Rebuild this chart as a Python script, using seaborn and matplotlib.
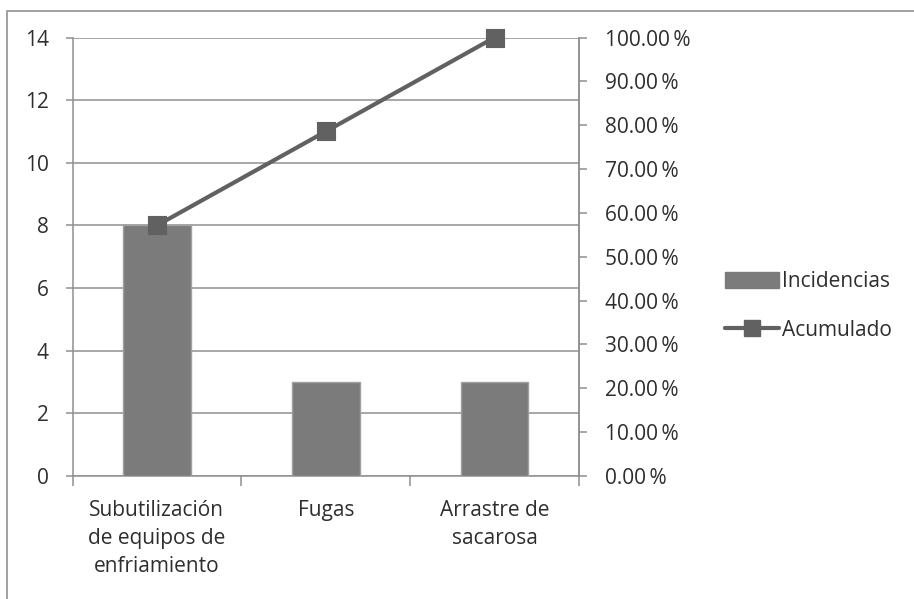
import matplotlib
matplotlib.use("Agg")
import matplotlib.pyplot as plt
import seaborn as sns
import pandas as pd
from matplotlib.lines import Line2D
from matplotlib.patches import Patch, Rectangle
from matplotlib.ticker import FixedLocator, FuncFormatter

categorias = ["Subutilización\nde equipos de\nenfriamiento", "Fugas", "Arrastre de\nsacarosa"]
incidencias = [8, 3, 3]
acumulado = [57.14, 78.57, 100.0]

sns.set_theme(style="white")
plt.rcParams["font.family"] = ["Open Sans", "DejaVu Sans"]

df = pd.DataFrame({"causa": categorias, "incidencias": incidencias, "acumulado": acumulado})

W, H = 914, 599
fig = plt.figure(figsize=(W / 100, H / 100), dpi=100)
# chart frame (open towards the right and bottom edges)
fig.patches.append(Rectangle((7 / W, -0.1), 1.2, 1 - 11 / H + 0.1, transform=fig.transFigure,
                             fill=False, edgecolor="#9a9a9a", linewidth=1.3, zorder=0))
ax = fig.add_axes([72.5 / W, 1 - 476 / H, 506.5 / W, 438.5 / H])

bar_color = "#7b7b7b"
line_color = "#616161"
axis_color = "#8f8f8f"
text_color = "#2e2e2e"
fs = 15

sns.barplot(data=df, x="causa", y="incidencias", color=bar_color, width=0.4,
            saturation=1, edgecolor="#a0a0a0", linewidth=1, ax=ax, zorder=3)
ax.set_ylim(0, 14)
ax.set_yticks(range(0, 15, 2))
ax.set_xlim(-0.5, 2.5)
ax.yaxis.grid(True, color=axis_color, linewidth=1.1)
ax.set_axisbelow(True)
ax.set_xlabel("")
ax.set_ylabel("")

ax.spines["top"].set_visible(False)
for side in ["left", "right", "bottom"]:
    ax.spines[side].set_color(axis_color)
    ax.spines[side].set_linewidth(1.1)

ax.tick_params(axis="y", length=5, width=1.1, color=axis_color, labelsize=fs, pad=12,
               labelcolor=text_color, left=True)
ax.xaxis.set_major_locator(FixedLocator([0, 1, 2]))
ax.tick_params(axis="x", length=0, labelsize=fs, pad=17, labelcolor=text_color)
for lbl in ax.get_xticklabels():
    lbl.set_linespacing(1.45)
    lbl.set_verticalalignment("top")
# ticks at the category boundaries
ax.xaxis.set_minor_locator(FixedLocator([-0.5, 0.5, 1.5, 2.5]))
ax.tick_params(axis="x", which="minor", length=7, width=1.1, color=axis_color, bottom=True)

ax2 = ax.twinx()
sns.pointplot(data=df, x="causa", y="acumulado", color=line_color, markers="s",
              linestyles="-", markersize=12, linewidth=3, ax=ax2, zorder=4)
ax2.set_ylim(0, 100)
ax2.set_xlim(-0.5, 2.5)
ax2.set_yticks(range(0, 101, 10))
ax2.yaxis.set_major_formatter(FuncFormatter(lambda v, p: f"{v:.2f}\u2009%"))
ax2.set_ylabel("")
ax2.set_xlabel("")
for side in ["top", "left", "bottom"]:
    ax2.spines[side].set_visible(False)
ax2.spines["right"].set_color(axis_color)
ax2.spines["right"].set_linewidth(1.1)
ax2.tick_params(axis="y", length=6, width=1.1, color=axis_color, labelsize=fs, pad=13,
                labelcolor=text_color, right=True)
for ln in ax2.lines:
    ln.set_clip_on(False)
for coll in ax2.collections:
    coll.set_clip_on(False)

handles = [Patch(facecolor=bar_color, edgecolor=bar_color),
           Line2D([0], [0], color=line_color, linewidth=3, marker="s", markersize=12)]
fig.legend(handles, ["Incidencias", "Acumulado"], loc="center left",
           bbox_to_anchor=(725 / W, 1 - 306 / H), frameon=False, fontsize=fs,
           borderpad=0, borderaxespad=0, handlelength=2.6, handleheight=0.8,
           handletextpad=0.15, labelspacing=1.3, labelcolor=text_color)

fig.savefig("out.png", dpi=100)
